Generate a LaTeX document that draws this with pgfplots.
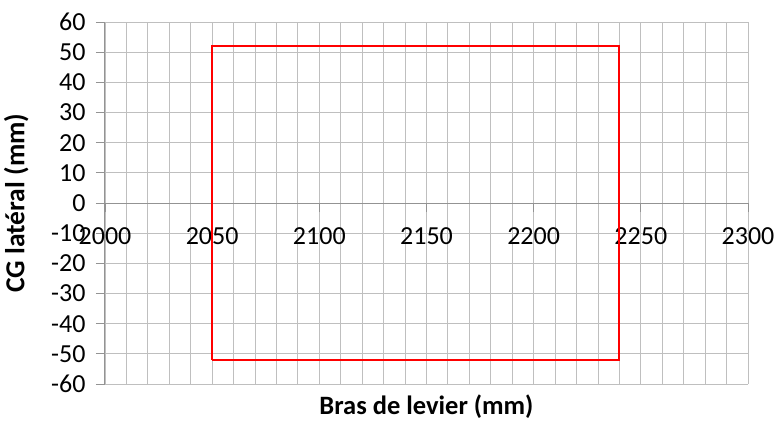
\documentclass[border=0pt]{standalone}
\usepackage{pgfplots}
\pgfplotsset{compat=1.18}
\usepackage{fontspec}
\setmainfont{Carlito}
\begin{document}
\begin{tikzpicture}
\path[use as bounding box] (-105pt,-37pt) rectangle (672pt,384pt);
\begin{axis}[
  at={(0,0)}, anchor=south west,
  scale only axis, width=643pt, height=362pt,
  xmin=2000, xmax=2300, ymin=-60, ymax=60,
  axis x line=middle, axis y line=left,
  axis line style={draw=gray!85, line width=1pt, -},
  xtick={2000,2050,...,2300}, minor x tick num=4,
  ytick={-60,-50,...,60},
  grid=both,
  major grid style={draw=gray!50, line width=0.9pt},
  minor grid style={draw=gray!50, line width=0.9pt},
  tick style={draw=gray!85, line width=0.9pt},
  tick align=outside, major tick length=9pt, minor tick length=0pt,
  hide obscured x ticks=false, hide obscured y ticks=false,
  /pgf/number format/assume math mode=true,
  /pgf/number format/1000 sep={},
  ticklabel style={font=\fontsize{26}{30}\selectfont},
  xticklabel style={yshift=-12pt},
  yticklabel style={xshift=-7pt},
  xlabel={\textbf{Bras de levier (mm)}},
  ylabel={\textbf{CG latéral (mm)}},
  xlabel style={at={(axis description cs:0.5,0)}, anchor=north, yshift=-7pt, font=\fontsize{26.5}{30}\selectfont},
  ylabel style={at={(axis description cs:-0.1135,0.5)}, anchor=south, rotate=0, font=\fontsize{27.5}{30}\selectfont},
]
\addplot[red, line width=2pt, mark=none, line join=miter] coordinates {(2050,-52) (2050,52) (2240,52) (2240,-52) (2050,-52)};
\end{axis}
\end{tikzpicture}
\end{document}
